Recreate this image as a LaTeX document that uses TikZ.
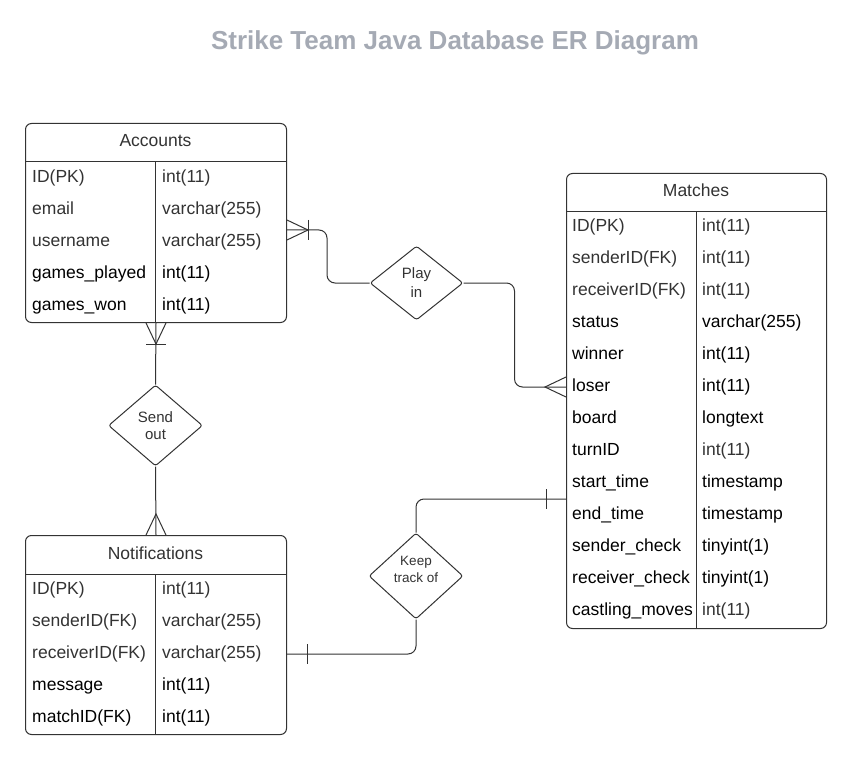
\documentclass[tikz,border=0pt]{standalone}
\usepackage{fontspec}
\setmainfont{Liberation Sans}
\usepackage{xcolor}
\usetikzlibrary{shapes.geometric}
\definecolor{titlegray}{HTML}{A5AAB4}
\definecolor{linegray}{HTML}{333333}
\definecolor{txtgray}{HTML}{333333}
\tikzstyle{tbl} = [draw=linegray, line width=1pt, rounded corners=6pt, anchor=north west, inner sep=0pt]
\tikzstyle{head} = [text=txtgray, font=\fontsize{17.5}{21}\selectfont]
\tikzstyle{fld} = [anchor=west, inner sep=0pt, text height=12.8pt, text depth=3.7pt, text=txtgray, font=\fontsize{17.5}{21}\selectfont]
\tikzstyle{fldb} = [fld, text=black]
\tikzstyle{rel} = [diamond, draw=linegray, line width=1pt, rounded corners=2.5pt, inner sep=0pt, align=center, text=txtgray]
\tikzstyle{conn} = [draw=linegray, line width=1pt, rounded corners=8pt]
\tikzset{
  crowmany/.pic={\draw[linegray, line width=1pt] (-21,-10) -- (0,0) -- (-21,10);},
  crowone/.pic={\draw[linegray, line width=1pt] (0,-10) -- (0,10);}
}

\begin{document}
\begin{tikzpicture}[x=1pt,y=-1pt]
  \fill[white] (0,0) rectangle (845,759);
  \useasboundingbox (0,0) rectangle (845,759);

  \node[text=titlegray, font=\bfseries\fontsize{26}{30}\selectfont] (title) at (455,43) {Strike Team Java Database ER Diagram};

  % Accounts
  \node[tbl, minimum width=261pt, minimum height=199pt] (acc) at (25,123) {};
  \node[head] (acc_head) at (155.5,141) {Accounts};
  \draw[linegray, line width=1pt] (25,162) -- (286,162) (155.5,162) -- (155.5,322);
  \node[fld] (acc_id) at (32,178) {ID(PK)};            \node[fld] (acc_id_t) at (162,178) {int(11)};
  \node[fld] (acc_email) at (32,210) {email};          \node[fld] (acc_email_t) at (162,210) {varchar(255)};
  \node[fld] (acc_user) at (32,242) {username};        \node[fld] (acc_user_t) at (162,242) {varchar(255)};
  \node[fldb] (acc_played) at (32,274) {games\_played}; \node[fldb] (acc_played_t) at (162,274) {int(11)};
  \node[fldb] (acc_won) at (32,306) {games\_won};       \node[fldb] (acc_won_t) at (162,306) {int(11)};

  % Matches
  \node[tbl, minimum width=260pt, minimum height=455pt] (mat) at (566,173) {};
  \node[head] (mat_head) at (696,190) {Matches};
  \draw[linegray, line width=1pt] (566,212) -- (826,212) (696,212) -- (696,628);
  \node[fld] (mat_id) at (572,227) {ID(PK)};                 \node[fld] (mat_id_t) at (702,227) {int(11)};
  \node[fld] (mat_sender) at (572,259) {senderID(FK)};       \node[fld] (mat_sender_t) at (702,259) {int(11)};
  \node[fld] (mat_recv) at (572,291) {receiverID(FK)};       \node[fld] (mat_recv_t) at (702,291) {int(11)};
  \node[fldb] (mat_status) at (572,323) {status};            \node[fldb] (mat_status_t) at (702,323) {varchar(255)};
  \node[fldb] (mat_winner) at (572,355) {winner};            \node[fldb] (mat_winner_t) at (702,355) {int(11)};
  \node[fldb] (mat_loser) at (572,387) {loser};              \node[fldb] (mat_loser_t) at (702,387) {int(11)};
  \node[fldb] (mat_board) at (572,419) {board};              \node[fldb] (mat_board_t) at (702,419) {longtext};
  \node[fldb] (mat_turn) at (572,451) {turnID};              \node[fld] (mat_turn_t) at (702,451) {int(11)};
  \node[fldb] (mat_start) at (572,483) {start\_time};        \node[fldb] (mat_start_t) at (702,483) {timestamp};
  \node[fldb] (mat_end) at (572,515) {end\_time};            \node[fldb] (mat_end_t) at (702,515) {timestamp};
  \node[fldb] (mat_scheck) at (572,547) {sender\_check};     \node[fldb] (mat_scheck_t) at (702,547) {tinyint(1)};
  \node[fldb] (mat_rcheck) at (572,579) {receiver\_check};   \node[fldb] (mat_rcheck_t) at (702,579) {tinyint(1)};
  \node[fldb] (mat_castle) at (572,611) {castling\_moves};   \node[fld] (mat_castle_t) at (702,611) {int(11)};

  % Notifications
  \node[tbl, minimum width=261pt, minimum height=199pt] (not) at (25,535) {};
  \node[head] (not_head) at (155.5,553) {Notifications};
  \draw[linegray, line width=1pt] (25,574) -- (286,574) (155.5,574) -- (155.5,734);
  \node[fld] (not_id) at (32,590) {ID(PK)};             \node[fld] (not_id_t) at (162,590) {int(11)};
  \node[fld] (not_sender) at (32,622) {senderID(FK)};   \node[fld] (not_sender_t) at (162,622) {varchar(255)};
  \node[fld] (not_recv) at (32,654) {receiverID(FK)};   \node[fld] (not_recv_t) at (162,654) {varchar(255)};
  \node[fldb] (not_msg) at (32,686) {message};          \node[fldb] (not_msg_t) at (162,686) {int(11)};
  \node[fldb] (not_match) at (32,718) {matchID(FK)};    \node[fldb] (not_match_t) at (162,718) {int(11)};

  % relations
  \node[rel, minimum width=93pt, minimum height=74pt, font=\fontsize{15}{19}\selectfont] (play) at (416.5,283) {Play\\in};
  \node[rel, minimum width=94pt, minimum height=81pt, font=\fontsize{15}{17.5}\selectfont] (send) at (155.5,425.5) {Send\\out};
  \node[rel, minimum width=94pt, minimum height=86pt,
        label={[yshift=7pt, align=center, text=txtgray, font=\fontsize{13.5}{17}\selectfont]center:Keep\\track of}] (keep) at (416,576) {};

  \coordinate (acc_r) at ([yshift=-7pt]acc.east);
  \coordinate (mat_l) at (mat.west |- mat_loser);
  \coordinate (mat_s) at ([yshift=-16pt]mat.west |- mat_start);
  \coordinate (not_r) at (not.east |- not_recv);

  \path[conn] (acc_r) -- ++(40,0) |- (play.west);
  \path[conn] (play.east) -- ++(51,0) |- (mat_l);
  \path[conn] (acc.south) -- (send.north);
  \path[conn] (send.south) -- (not.north);
  \path[conn] (keep.north) |- (mat_s);
  \path[conn] (keep.south) |- (not_r);

  \pic at ([xshift=21pt]acc_r) {crowmany};
  \pic at ([xshift=21pt]acc_r) {crowone};
  \pic[rotate=180] at ([xshift=-21pt]mat_l) {crowmany};
  \pic[rotate=-90] at ([yshift=-21pt]acc.south) {crowmany};
  \pic[rotate=90] at ([yshift=-21pt]acc.south) {crowone};
  \pic[rotate=90] at ([yshift=21pt]not.north) {crowmany};
  \pic at ([xshift=-20pt]mat_s) {crowone};
  \pic at ([xshift=20pt]not_r) {crowone};
\end{tikzpicture}
\end{document}
